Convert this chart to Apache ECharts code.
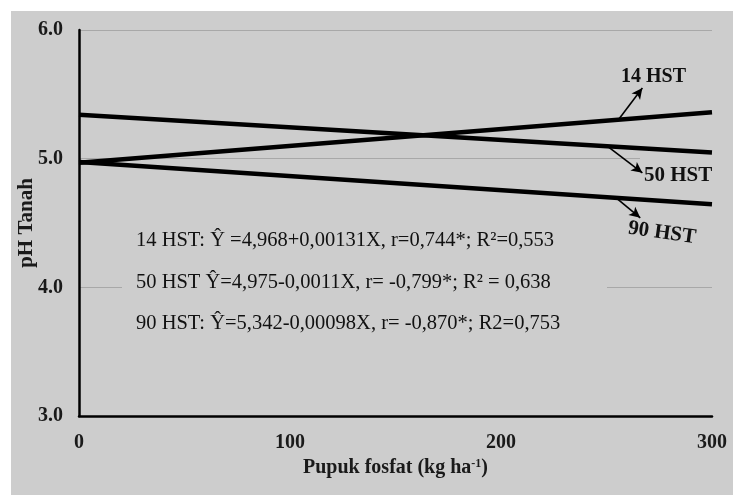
<!DOCTYPE html>
<html>
<head>
<meta charset="utf-8">
<script src="https://cdn.jsdelivr.net/npm/echarts@6/dist/echarts.min.js"></script>
<style>html,body{margin:0;padding:0;background:#fff;}#c{width:733px;height:495px;}</style>
</head>
<body>
<div id="c"></div>
<script>
// Data
const xValues = [0, 300];
const hst14 = [4.968, 5.361];
const hst90 = [5.342, 5.048];
const hst50 = [4.975, 4.645];
const yTicks = [3, 4, 5, 6];
const xTicks = [0, 100, 200, 300];
// annotation arrows: [from, to] in data coordinates
const arrow14 = [[256, 5.31], [267, 5.55]];
const arrow50 = [[251, 5.09], [267, 4.89]];
const arrow90 = [[255, 4.69], [266, 4.54]];
const equations = [
  '14 HST: Ŷ =4,968+0,00131X, r=0,744*; R²=0,553',
  '50 HST Ŷ=4,975-0,0011X, r= -0,799*; R² = 0,638',
  '90 HST: Ŷ=5,342-0,00098X, r= -0,870*; R2=0,753'
];

const GRAY = '#cdcdcd';
const FONT = '"Liberation Serif", "Times New Roman", serif';

function pts(xs, ys) { return xs.map((x, i) => [x, ys[i]]); }
function arrowML(a) {
  return {
    silent: true,
    symbol: ['none', 'arrow'],
    symbolSize: [8, 11],
    lineStyle: { color: '#000', width: 1.6, type: 'solid' },
    label: { show: false },
    data: [[{ coord: a[0] }, { coord: a[1] }]]
  };
}

const chart = echarts.init(document.getElementById('c'));
const option = {
  backgroundColor: '#fff',
  animation: false,
  grid: { left: 79, right: 21, top: 30, bottom: 79 },
  xAxis: {
    type: 'value', min: xTicks[0], max: xTicks[xTicks.length - 1], interval: 100,
    axisLine: { lineStyle: { color: '#000', width: 2.5 } },
    axisTick: { show: false },
    splitLine: { show: false },
    axisLabel: { fontFamily: FONT, fontWeight: 'bold', fontSize: 20, color: '#1a1a1a', margin: 17 },
    name: '{a|Pupuk fosfat (kg ha}{s|-1}{a|)}',
    nameLocation: 'middle', nameGap: 41,
    nameTextStyle: {
      rich: {
        a: { fontFamily: FONT, fontWeight: 'bold', fontSize: 20, color: '#1a1a1a' },
        s: { fontFamily: FONT, fontWeight: 'bold', fontSize: 12, color: '#1a1a1a', verticalAlign: 'top', padding: [0, 0, 8, 0] }
      }
    }
  },
  yAxis: {
    type: 'value', min: yTicks[0], max: yTicks[yTicks.length - 1], interval: 1,
    axisLine: { show: true, lineStyle: { color: '#000', width: 2.5 } },
    axisTick: { show: false },
    splitLine: { show: true, lineStyle: { color: '#a8a8a8', width: 1.2 } },
    axisLabel: { fontFamily: FONT, fontWeight: 'bold', fontSize: 20, color: '#1a1a1a', margin: 16,
      formatter: v => v.toFixed(1) },
    name: 'pH Tanah', nameLocation: 'middle', nameGap: 42, nameRotate: 90, nameMoveOverlap: false,
    nameTextStyle: { fontFamily: FONT, fontWeight: 'bold', fontSize: 21, color: '#1a1a1a' }
  },
  graphic: [
    { type: 'rect', z: -100, silent: true, shape: { x: 11, y: 11, width: 722, height: 484 }, style: { fill: GRAY } },
    { type: 'rect', z: 5, silent: true, shape: { x: 122, y: 224, width: 485, height: 114 }, style: { fill: GRAY } },
    { type: 'text', z: 6, left: 136, top: 230, style: { text: equations[0], font: '20.5px ' + FONT, fill: '#111' } },
    { type: 'text', z: 6, left: 136, top: 272, style: { text: equations[1], font: '20.5px ' + FONT, fill: '#111' } },
    { type: 'text', z: 6, left: 136, top: 313, style: { text: equations[2], font: '20.5px ' + FONT, fill: '#111' } },
    { type: 'text', z: 6, left: 621, top: 67, style: { text: '14 HST', font: 'bold 20px ' + FONT, fill: '#111' } },
    { type: 'rect', z: 5, silent: true, shape: { x: 640, y: 154, width: 75, height: 8 }, style: { fill: GRAY } },
    { type: 'text', z: 6, left: 644, top: 165, style: { text: '50 HST', font: 'bold 21px ' + FONT, fill: '#111' } },
    { type: 'text', z: 6, x: 662, y: 233, rotation: -0.14, style: { text: '90 HST', font: 'bold 21px ' + FONT, fill: '#111', align: 'center', verticalAlign: 'middle' } }
  ],
  series: [
    { name: '14 HST', type: 'line', data: pts(xValues, hst14), symbol: 'none', z: 10,
      lineStyle: { color: '#000', width: 4.5 }, markLine: arrowML(arrow14) },
    { name: '90 HST', type: 'line', data: pts(xValues, hst90), symbol: 'none', z: 10,
      lineStyle: { color: '#000', width: 4.5 }, markLine: arrowML(arrow50) },
    { name: '50 HST', type: 'line', data: pts(xValues, hst50), symbol: 'none', z: 10,
      lineStyle: { color: '#000', width: 4.5 }, markLine: arrowML(arrow90) }
  ]
};
chart.setOption(option);
</script>
</body>
</html>
